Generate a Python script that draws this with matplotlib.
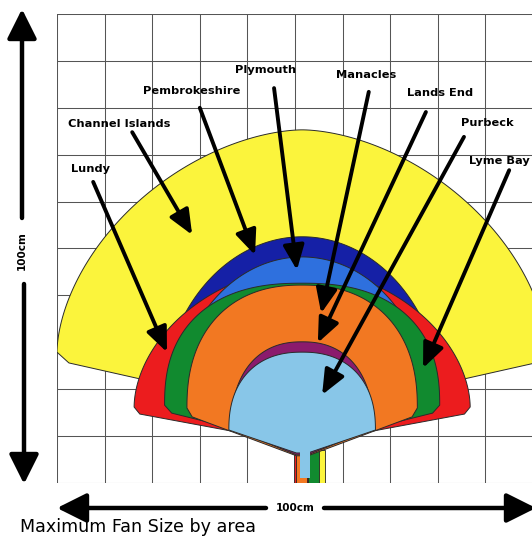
import numpy as np
import matplotlib
matplotlib.use("Agg")
import matplotlib.pyplot as plt
from matplotlib.patches import Polygon, Rectangle

# fan sites, back to front (cm on a 100cm x 100cm board)
sites = ['Channel Islands', 'Pembrokeshire', 'Lundy', 'Plymouth',
         'Lyme Bay', 'Manacles', 'Lands End', 'Purbeck']
colours = ['#fbf43c', '#1520a6', '#ec1c1e', '#2e70de',
           '#118a2f', '#f27822', '#8b1b6d', '#88c6e8']
half_width = [51.5, 29.6, 35.3, 26.7, 28.9, 24.2, 14.9, 15.4]
top_height = [75.3, 52.5, 45.8, 48.2, 42.6, 42.2, 30.1, 27.9]
shoulder = [27.9, 15.6, 16.2, 15.6, 16.6, 16.0, 11.6, 11.3]
apex = [14.7, 8.0, 8.5, 8.0, 8.3, 5.8, 6.0, 6.4]
roundness = [1.75, 2.0, 1.85, 2.0, 2.4, 2.3, 2.3, 2.3]
chamfer = [(2.5, 2.3), (0.0, 0.0), (1.2, 1.5), (0.0, 0.0),
           (1.5, 1.7), (1.1, 1.9), (0.0, 0.0), (0.0, 0.0)]
centre_x = 51.5

# labels: text position and arrow tip (cm)
label_pos = {'Lundy': (7.1, 67.0), 'Channel Islands': (13.0, 76.5),
             'Pembrokeshire': (28.2, 83.6), 'Plymouth': (43.9, 88.1),
             'Manacles': (64.9, 87.0), 'Lands End': (80.5, 83.2),
             'Purbeck': (90.5, 76.8), 'Lyme Bay': (99.3, 68.7)}
arrow_start = {'Lundy': (7.6, 64.2), 'Channel Islands': (15.8, 74.8),
               'Pembrokeshire': (30.0, 80.0), 'Plymouth': (45.6, 84.2),
               'Manacles': (65.5, 83.4), 'Lands End': (77.5, 79.1),
               'Purbeck': (85.5, 73.8), 'Lyme Bay': (95.0, 66.7)}
arrow_tip = {'Lundy': (23.1, 27.9), 'Channel Islands': (28.4, 52.9),
             'Pembrokeshire': (41.6, 48.6), 'Plymouth': (50.4, 45.4),
             'Manacles': (55.5, 36.2), 'Lands End': (54.8, 29.9),
             'Purbeck': (55.7, 18.8), 'Lyme Bay': (76.9, 24.5)}


def fan_outline(a, top, base, low, n, cut, stem=1.2, steps=160):
    t = np.linspace(np.pi, 0, steps)
    c = np.cos(t)
    x = centre_x + a * np.sign(c) * np.abs(c) ** (2 / n)
    y = base + (top - base) * np.abs(np.sin(t)) ** (2 / n)
    cw, ch = cut
    xs = [centre_x - a + cw] + list(x) + [centre_x + a - cw, centre_x + stem, centre_x - stem]
    ys = [base - ch] + list(y) + [base - ch, low, low]
    return np.column_stack([xs, ys])


fig = plt.figure(figsize=(5.32, 5.37), dpi=100)
ax = fig.add_axes([57 / 532, 54 / 537, 476 / 532, 469 / 537])
ax.set_xlim(0, 100)
ax.set_ylim(0, 100)
ax.set_xticks(np.arange(0, 101, 10))
ax.set_yticks(np.arange(0, 101, 10))
ax.grid(True, color='#555555', lw=0.75)
ax.set_axisbelow(True)
ax.tick_params(length=0, labelbottom=False, labelleft=False)
for s in ax.spines.values():
    s.set_visible(False)

# little handle stems under the fans
stem_cols = [('#fbf43c', 53.2, 3.0), ('#118a2f', 52.6, 2.4), ('#ec1c1e', 49.8, 3.0),
             ('#f27822', 50.3, 2.2)]
for col, x0, w in stem_cols:
    ax.add_patch(Rectangle((x0, 0), w, 7.0, fc=col, ec='#222', lw=0.6, zorder=2))

for i, name in enumerate(sites):
    pts = fan_outline(half_width[i], top_height[i], shoulder[i], apex[i],
                      roundness[i], chamfer[i])
    ax.add_patch(Polygon(pts, closed=True, fc=colours[i], ec='#2a2a2a',
                         lw=0.7, zorder=3 + i))

# purbeck handle continues into the stem
ax.add_patch(Rectangle((51.0, 1.0), 2.1, 6.0, fc=colours[-1], ec='none', zorder=12))

for name in sites:
    ax.annotate('', xy=arrow_tip[name], xytext=arrow_start[name],
                arrowprops=dict(arrowstyle='-|>,head_length=0.75,head_width=0.32',
                                lw=2.8, color='black', mutation_scale=20,
                                shrinkA=0, shrinkB=0),
                zorder=20)
    lx, ly = label_pos[name]
    ha = 'right' if name == 'Lyme Bay' else 'center'
    ax.text(lx, ly, name, fontsize=8.2, fontweight='bold', ha=ha, va='center',
            zorder=21, clip_on=False)

# outer scale arrows and caption in pixel space
over = fig.add_axes([0, 0, 1, 1], facecolor='none')
over.set_xlim(0, 532)
over.set_ylim(537, 0)
over.axis('off')
arr = dict(arrowstyle='-|>,head_length=0.9,head_width=0.45', lw=3.2,
           color='black', mutation_scale=20, shrinkA=0, shrinkB=0)
over.annotate('', xy=(22, 9), xytext=(22, 218), arrowprops=arr)
over.annotate('', xy=(24, 484), xytext=(24, 284), arrowprops=arr)
over.text(22, 251, '100cm', rotation=90, fontsize=7.5, fontweight='bold',
          ha='center', va='center')
over.annotate('', xy=(57, 508), xytext=(266, 508), arrowprops=arr)
over.annotate('', xy=(536, 508), xytext=(324, 508), arrowprops=arr,
              annotation_clip=False)
over.text(295, 508, '100cm', fontsize=7.5, fontweight='bold', ha='center', va='center')
over.text(20, 527, 'Maximum Fan Size by area', fontsize=12.6, ha='left', va='center')

fig.savefig('out.png', dpi=100, facecolor='white')
